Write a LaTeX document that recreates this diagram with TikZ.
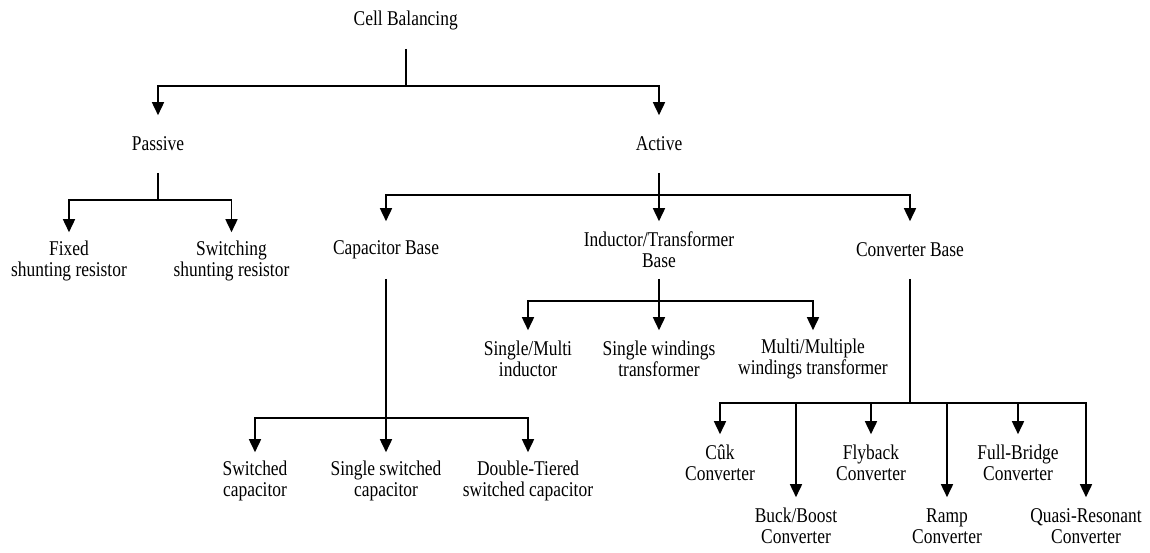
\documentclass[tikz,border=0pt]{standalone}
\usepackage{fontspec}
\setmainfont{Liberation Serif}[FakeStretch=0.83]
\usetikzlibrary{arrows.meta}

\begin{document}
\begin{tikzpicture}[x=1pt, y=-1pt, line width=1.6pt,
  lbl/.style={rectangle, minimum height=56pt, inner sep=0pt, align=center, font=\fontsize{21}{21}\selectfont},
  arr/.style={-{Triangle[length=13pt, width=12pt]}}]

\useasboundingbox (0,0) rectangle (1150,552);

% top
\draw (405.7,20) node (cell) [lbl] {Cell Balancing};
\draw (158,144) node (passive) [lbl] {Passive};
\draw (659,144) node (active) [lbl] {Active};

\path (cell.south) -- +(0,37) coordinate (hcell);
\draw (cell.south) -- (hcell);
\draw [arr] (hcell) -| (passive.north);
\draw [arr] (hcell) -| (active.north);

% passive
\draw (69,261) node (fixed) [lbl] {Fixed\\shunting resistor};
\draw (231.5,261) node (switching) [lbl] {Switching\\shunting resistor};

\path (passive.south) -- +(0,27) coordinate (hpas);
\draw (passive.south) -- (hpas);
\draw [arr] (hpas) -| (fixed.north);
\draw [arr] (hpas) -| (switching.north);

% active
\draw (386,250) node (capbase) [lbl] {Capacitor Base};
\draw (659,250) node (indbase) [lbl] {Inductor/Transformer\\Base};
\draw (910,250) node (convbase) [lbl] {Converter Base};

\path (active.south) -- +(0,22) coordinate (hact);
\draw (active.south) -- (hact);
\draw [arr] (hact) -| (capbase.north);
\draw [arr] (hact) -| (indbase.north);
\draw [arr] (hact) -| (convbase.north);

% capacitor base
\draw (255,481) node (swcap) [lbl] {Switched\\capacitor};
\draw (386,481) node (sswcap) [lbl] {Single switched\\capacitor};
\draw (528,481) node (dtcap) [lbl] {Double-Tiered\\switched capacitor};

\path (capbase.south) -- +(0,139) coordinate (hcap);
\draw (capbase.south) -- (hcap);
\draw [arr] (hcap) -| (swcap.north);
\draw [arr] (hcap) -| (sswcap.north);
\draw [arr] (hcap) -| (dtcap.north);

% inductor/transformer base
\draw (528,359) node (smind) [lbl] {Single/Multi\\inductor};
\draw (659,359) node (swtr) [lbl] {Single windings\\transformer};
\draw (813,359) node (mmtr) [lbl] {Multi/Multiple\\windings transformer};

\path (indbase.south) -- +(0,22) coordinate (hind);
\draw (indbase.south) -- (hind);
\draw [arr] (hind) -| (smind.north);
\draw [arr] (hind) -| (swtr.north);
\draw [arr] (hind) -| (mmtr.north);

% converter base
\draw (720,463) node (cuk) [lbl] {Cûk\\Converter};
\draw (796,526) node (buck) [lbl] {Buck/Boost\\Converter};
\draw (871,463) node (fly) [lbl] {Flyback\\Converter};
\draw (947,526) node (ramp) [lbl] {Ramp\\Converter};
\draw (1018,463) node (fbr) [lbl] {Full-Bridge\\Converter};
\draw (1086,526) node (quasi) [lbl] {Quasi-Resonant\\Converter};

\path (convbase.south) -- +(0,124) coordinate (hconv);
\draw (convbase.south) -- (hconv);
\draw [arr] (hconv) -| (cuk.north);
\draw [arr] (hconv) -| (buck.north);
\draw [arr] (hconv) -| (fly.north);
\draw [arr] (hconv) -| (ramp.north);
\draw [arr] (hconv) -| (fbr.north);
\draw [arr] (hconv) -| (quasi.north);

\end{tikzpicture}
\end{document}
